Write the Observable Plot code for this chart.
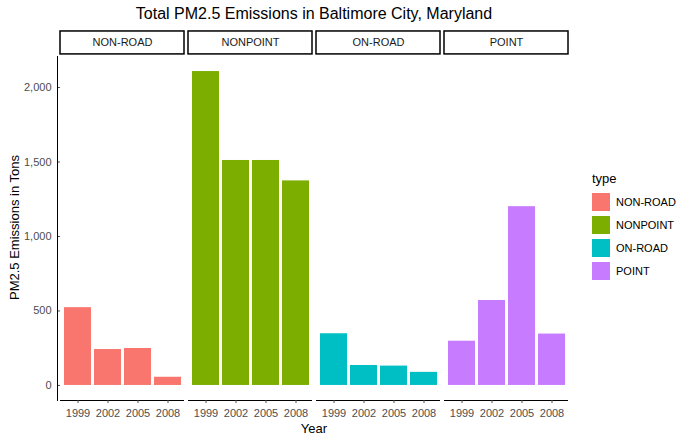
<!DOCTYPE html>
<html><head><meta charset="utf-8">
<script src="https://cdn.jsdelivr.net/npm/d3@7"></script>
<script src="https://cdn.jsdelivr.net/npm/@observablehq/plot@0.6"></script>
<style>
body{margin:0;background:#fff;font-family:"Liberation Sans",Arial,sans-serif}
#wrap{position:relative;width:700px;height:446px}
.abs{position:absolute}
.lg{display:flex;align-items:center;font-size:11px;color:#000;height:23px}
.lg span{display:inline-block;width:18px;height:18px;margin-right:6px}
</style></head><body>
<div id="wrap">
  <div class="abs" style="left:58px;width:512px;top:5px;text-align:center;font-size:16px">Total PM2.5 Emissions in Baltimore City, Maryland</div>
  <div class="abs" style="left:58px;width:512px;top:421px;text-align:center;font-size:13px">Year</div>
  <div class="abs" style="left:-86px;top:220px;width:200px;text-align:center;font-size:13px;transform:rotate(-90deg)">PM2.5 Emissions in Tons</div>
  <div class="abs" style="left:57px;top:56px;width:1px;height:345px;background:#000"></div>
  <div class="abs" id="legend" style="left:592px;top:171px"></div>
  <div id="chart"></div>
</div>
<script>
const types = ["NON-ROAD", "NONPOINT", "ON-ROAD", "POINT"];
const years = ["1999", "2002", "2005", "2008"];
const colors = ["#F8766D", "#7CAE00", "#00BFC4", "#C77CFF"];
const nonRoad = [522, 241, 248, 55];
const nonPoint = [2107, 1510, 1510, 1373];
const onRoad = [347, 134, 130, 88];
const point = [297, 570, 1200, 345];

const series = [nonRoad, nonPoint, onRoad, point];
const data = [];
types.forEach((t, i) => years.forEach((y, j) => data.push({type: t, year: y, value: series[i][j]})));

const chart = Plot.plot({
  width: 700, height: 446,
  marginTop: 56, marginBottom: 46, marginLeft: 58, marginRight: 130,
  fx: {domain: types, paddingInner: 0.03, paddingOuter: 0, axis: null},
  x: {domain: years, paddingInner: 0.1, paddingOuter: 0.1},
  y: {domain: [-101, 2208]},
  color: {domain: types, range: colors},
  style: {fontSize: "11px", fontFamily: "Liberation Sans, Arial, sans-serif", color: "#4d4d4d"},
  marks: [
    Plot.barY(data, {fx: "type", x: "year", y: "value", fill: "type"}),
    Plot.ruleY([-101], {stroke: "#000"}),
    Plot.rect(types, {fx: d => d, y1: 2222, y2: 2376, fill: "#fff", stroke: "#000", strokeWidth: 1.5}),
    Plot.text(types, {fx: d => d, y: 2299, text: d => d, fill: "#1a1a1a", fontSize: 11}),
    Plot.axisY({ticks: [0, 500, 1000, 1500, 2000], label: null, tickSize: 3, fill: "#4d4d4d"}),
    Plot.axisX({label: null, tickSize: 3, fill: "#4d4d4d"})
  ]
});
document.getElementById("chart").append(chart);

const lg = document.getElementById("legend");
lg.innerHTML = '<div style="font-size:13px;margin-bottom:4px">type</div>' +
  types.map((t, i) => `<div class="lg"><span style="background:${colors[i]}"></span>${t}</div>`).join("");
</script>
</body></html>
